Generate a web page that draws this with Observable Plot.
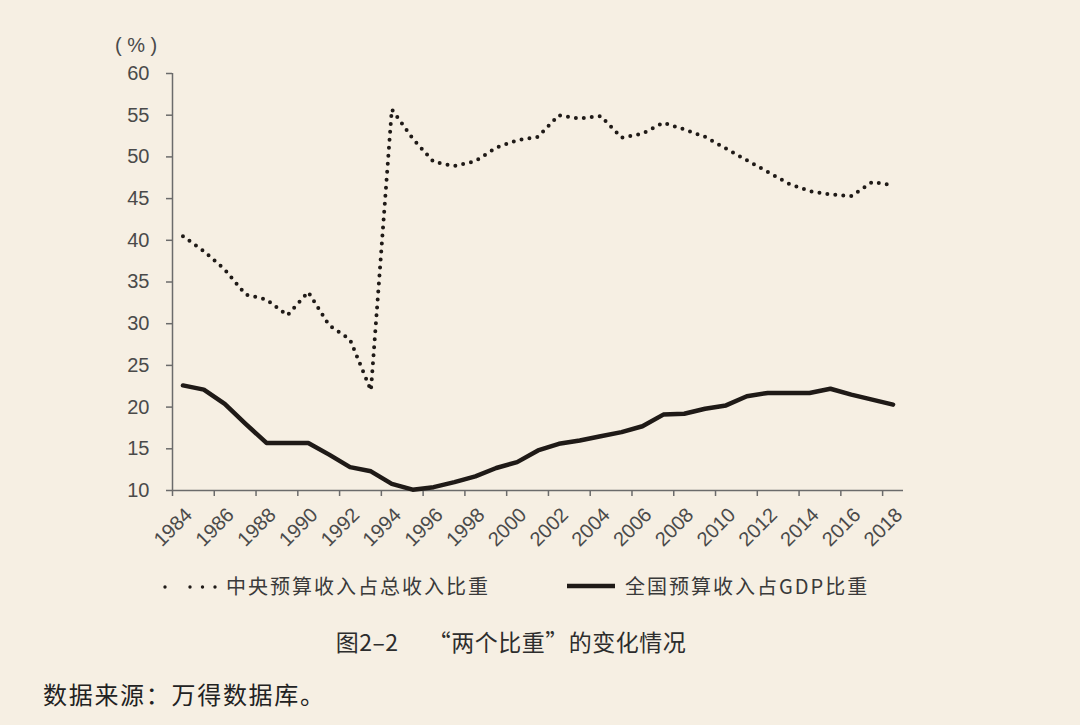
<!DOCTYPE html>
<html><head><meta charset="utf-8">
<script src="https://cdn.jsdelivr.net/npm/d3@7"></script>
<script src="https://cdn.jsdelivr.net/npm/@observablehq/plot@0.6"></script>
<style>
html,body{margin:0;padding:0;background:#f6efe3;}
#wrap{position:relative;width:1080px;height:725px;background:#f6efe3;overflow:hidden;font-family:"Noto Sans CJK SC","Noto Sans",sans-serif;}
#chart{position:absolute;left:0;top:0;}
.abs{position:absolute;white-space:nowrap;line-height:1;}
#unit{left:115px;top:35px;font-family:"Liberation Sans",Arial,sans-serif;font-size:20px;color:#4a4a4a;}
.legtext{font-size:20px;letter-spacing:2px;color:#3a3a3a;top:576px;}
#caption{left:0;width:1022px;text-align:center;top:630px;font-size:23px;letter-spacing:0.5px;color:#2d2d2d;}
#source{left:43px;top:682px;font-size:24px;letter-spacing:1.7px;color:#222;}
</style></head><body>
<div id="wrap">
  <div id="chart"></div>
  <div id="unit" class="abs">( % )</div>
  <svg class="abs" style="left:160px;top:576px" width="70" height="22"><line x1="5" x2="56" y1="11" y2="11" stroke="#1f1a17" stroke-width="3.4" stroke-linecap="round" stroke-dasharray="0 25 0 12.5 0 12.5"/></svg>
  <div id="leg1" class="abs legtext" style="left:226px"></div>
  <svg class="abs" style="left:560px;top:576px" width="62" height="22"><line x1="7" x2="55" y1="10" y2="10" stroke="#1f1a17" stroke-width="4.5"/></svg>
  <div id="leg2" class="abs legtext" style="left:625px"></div>
  <div id="caption" class="abs"></div>
  <div id="source" class="abs"></div>
</div>
<script>
// categories
const years = [1984,1985,1986,1987,1988,1989,1990,1991,1992,1993,1994,1995,1996,1997,1998,1999,2000,2001,2002,2003,2004,2005,2006,2007,2008,2009,2010,2011,2012,2013,2014,2015,2016,2017,2018];
// 中央预算收入占总收入比重 (%)
const centralShare = [40.5,38.7,36.5,33.5,32.9,31.0,33.8,29.8,28.1,22.0,55.7,52.2,49.4,48.9,49.5,51.1,52.0,52.4,55.0,54.6,54.9,52.3,52.8,54.1,53.3,52.4,51.0,49.6,48.2,46.8,45.9,45.5,45.3,47.0,46.6];
// 全国预算收入占GDP比重 (%)
const gdpShare = [22.6,22.1,20.4,18.0,15.7,15.7,15.7,14.3,12.8,12.3,10.8,10.1,10.4,11.0,11.7,12.7,13.4,14.8,15.6,16.0,16.5,17.0,17.7,19.1,19.2,19.8,20.2,21.3,21.7,21.7,21.7,22.2,21.5,20.9,20.3];
// tick labels
const xLabelYears = [1984,1986,1988,1990,1992,1994,1996,1998,2000,2002,2004,2006,2008,2010,2012,2014,2016,2018];
const yTicks = [10,15,20,25,30,35,40,45,50,55,60];
const seriesNames = ["中央预算收入占总收入比重","全国预算收入占GDP比重"];
const unitLabel = "( % )";
const captionText = "图2–2　 “两个比重”的变化情况";
const sourceText = "数据来源：万得数据库。";

const data = years.map((y,i)=>({year:y, central:centralShare[i], gdp:gdpShare[i]}));
const xDomain = [years[0]-0.5, years[years.length-1]+0.5];
const boundaryTicks = xLabelYears.map(y=>y-0.5);
const axisColor = "#6b6b6b";
const ink = "#1f1a17";

const chart = Plot.plot({
  width:1080, height:560,
  marginLeft:172, marginRight:177, marginTop:73, marginBottom:70,
  style:{background:"transparent", fontFamily:"'Liberation Sans', Arial, sans-serif", color:"#4a4a4a", overflow:"visible"},
  x:{domain:xDomain},
  y:{domain:[yTicks[0], yTicks[yTicks.length-1]]},
  marks:[
    Plot.ruleX([xDomain[0]], {y1:yTicks[0], y2:yTicks[yTicks.length-1], stroke:axisColor, strokeWidth:1.5}),
    Plot.ruleY([yTicks[0]], {x1:xDomain[0], x2:xDomain[1], stroke:axisColor, strokeWidth:1.5}),
    Plot.axisY({ticks:yTicks, tickSize:6, tickPadding:17, fontSize:20, stroke:axisColor, strokeWidth:1.5, fill:"#4a4a4a", label:null}),
    Plot.axisX({ticks:boundaryTicks, tickSize:6, tickFormat:()=> "", stroke:axisColor, strokeWidth:1.5, label:null}),
    Plot.axisX({ticks:xLabelYears, tickSize:0, tickPadding:21, tickRotate:-45, fontSize:20, dx:6, tickFormat:d=>String(d), fill:"#4a4a4a", label:null}),
    Plot.line(data, {x:"year", y:"gdp", stroke:ink, strokeWidth:4.5, strokeLinejoin:"round"}),
    Plot.line(data, {x:"year", y:"central", stroke:ink, strokeWidth:4, strokeDasharray:"0,8", strokeLinecap:"round"})
  ]
});
document.getElementById("chart").appendChild(chart);
document.getElementById("leg1").textContent = seriesNames[0];
document.getElementById("leg2").textContent = seriesNames[1];
document.getElementById("unit").textContent = unitLabel;
document.getElementById("caption").textContent = captionText;
document.getElementById("source").textContent = sourceText;
</script>
</body></html>
